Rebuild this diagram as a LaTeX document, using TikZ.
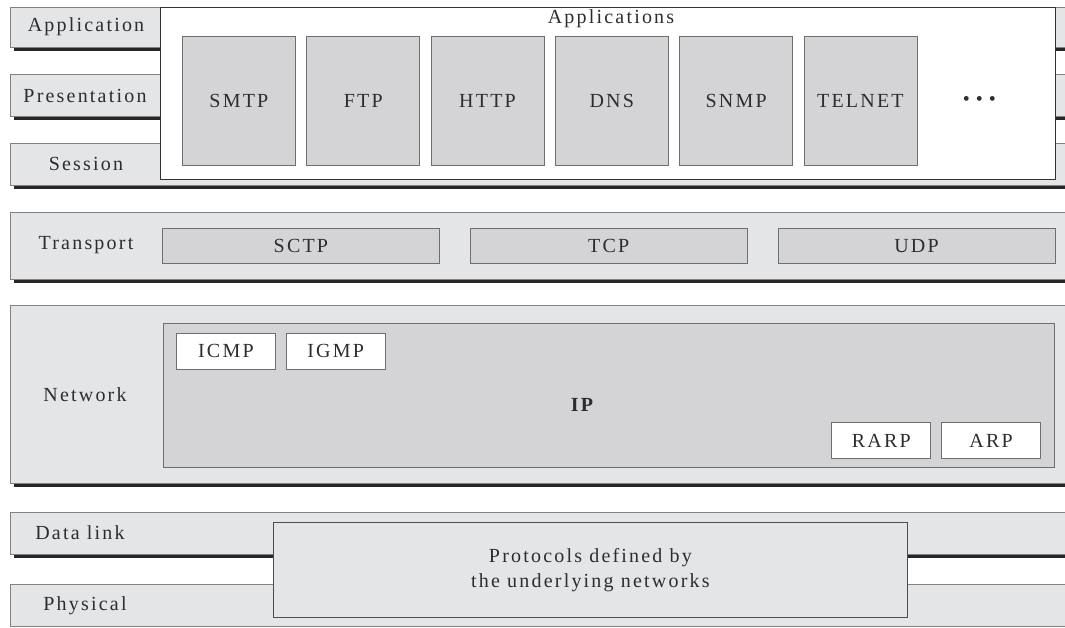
\documentclass[tikz,border=0pt]{standalone}
\usepackage{fontspec}
\setmainfont{Liberation Serif}[LetterSpace=11]
\usetikzlibrary{positioning}
\definecolor{layfill}{RGB}{228,229,231}
\definecolor{boxfill}{RGB}{212,212,214}
\definecolor{laygray}{RGB}{130,130,132}
\definecolor{boxgray}{RGB}{110,110,112}
\definecolor{txtgray}{RGB}{45,45,45}

\begin{document}
\begin{tikzpicture}[
  x=1pt, y=-1pt,
  node distance=10.5pt,
  font=\fontsize{20}{25}\selectfont, text=txtgray,
  layer/.style={rectangle, draw=laygray, fill=layfill, minimum width=1060pt, anchor=north west, inner sep=0pt, line width=0.8pt},
  shadeline/.style={line width=3pt, black!85},
  appbox/.style={rectangle, draw=black!80, fill=white, anchor=north west, inner sep=0pt, line width=1pt},
  protobox/.style={rectangle, draw=boxgray, fill=boxfill, minimum width=113pt, minimum height=129pt, anchor=north west, inner sep=0pt, line width=0.8pt},
  transbox/.style={protobox, minimum width=277pt, minimum height=35pt},
  smallbox/.style={rectangle, draw=boxgray, fill=white, minimum width=99pt, minimum height=36pt, anchor=north west, inner sep=0pt, line width=0.8pt}
]
\useasboundingbox (0,0) rectangle (1065,627);

% Layer bars
\node[layer, minimum height=40pt] (app) at (10,7) {};
\node[layer, minimum height=42pt] (pres) at (10,74) {};
\node[layer, minimum height=42pt] (sess) at (10,143) {};
\node[layer, minimum height=67pt] (trans) at (10,212) {};
\node[layer, minimum height=178pt] (net) at (10,305) {};
\node[layer, minimum height=42pt] (dlink) at (10,512) {};
\node[layer, minimum height=42pt] (phys) at (10,584) {};

% Shadows under the bars
\foreach \n in {app,pres,sess,trans,net,dlink}
  \draw[shadeline] ([xshift=4pt, yshift=-2pt]\n.south west) -- ([yshift=-2pt]\n.south east);

% Layer names
\node (applbl) at (86,27) {Application};
\node (preslbl) at (85,96) {Presentation};
\node (sesslbl) at (86,164) {Session};
\node (translbl) at (86,245) {Transport};
\node (netlbl) at (85,395) {Network};
\node (dlinklbl) at (80,533) {Data link};
\node (physlbl) at (85,606) {Physical};

% Application layer protocols
\node[appbox, minimum width=895pt, minimum height=172pt] (apps) at (160,7) {};
\node (appstitle) at (611,19) {Applications};
\node[protobox] (smtp) at (182,36) {SMTP};
\node[protobox, right=of smtp] (ftp) {FTP};
\node[protobox, right=of ftp] (http) {HTTP};
\node[protobox, right=of http] (dns) {DNS};
\node[protobox, right=of dns] (snmp) {SNMP};
\node[protobox, right=of snmp] (telnet) {TELNET};
\node[right=42pt of telnet] (dots) {\textbullet\hspace{6pt}\textbullet\hspace{6pt}\textbullet};

% Transport layer
\node[transbox] (sctp) at (162,228) {SCTP};
\node[transbox, right=30pt of sctp] (tcp) {TCP};
\node[transbox, right=30pt of tcp] (udp) {UDP};

% Network layer
\node[protobox, minimum width=891pt, minimum height=144pt] (ip) at (163,323) {};
\node[font=\fontsize{20}{25}\selectfont\bfseries] (iplbl) at (582,405) {IP};
\node[smallbox] (icmp) at (176,333) {ICMP};
\node[smallbox, right=10pt of icmp] (igmp) {IGMP};
\node[smallbox, anchor=north east] (arp) at (1041,422) {ARP};
\node[smallbox, left=10pt of arp] (rarp) {RARP};

% Data link and physical
\node[layer, draw=black!70, minimum width=634pt, minimum height=95pt, align=center] (under) at (273,522) {Protocols defined by\\the underlying networks};

\end{tikzpicture}
\end{document}
